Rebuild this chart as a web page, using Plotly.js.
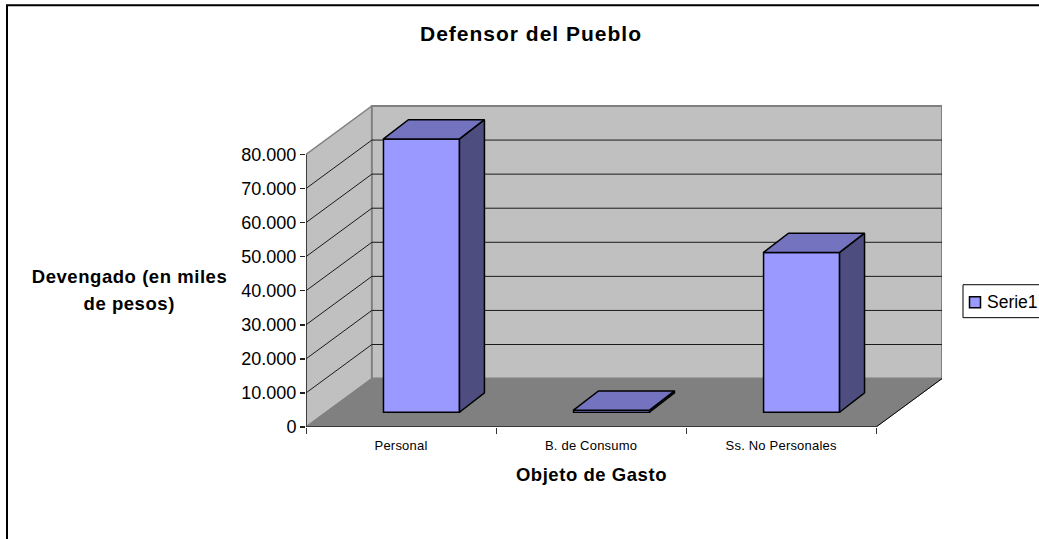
<!DOCTYPE html>
<html><head><meta charset="utf-8">
<script src="https://cdn.plot.ly/plotly-3.0.1.min.js"></script>
<style>html,body{margin:0;padding:0;background:#fff;overflow:hidden}#c{width:1039px;height:539px}
#c .annotation-text tspan[style*="bold"]{letter-spacing:.55px}
#c .gtitle tspan{letter-spacing:1px}
#c .xtick text{letter-spacing:.2px}
</style></head>
<body><div id="c"></div>
<script>
const categories = ["Personal", "B. de Consumo", "Ss. No Personales"];
const values = [80200, 600, 46900];
const yTicks = [0,10000,20000,30000,40000,50000,60000,70000,80000];
const yTickText = ["0","10.000","20.000","30.000","40.000","50.000","60.000","70.000","80.000"];
const seriesName = "Serie1";

// pixel frame of the chart
const W=1039,H=539, L=306,R=942,T=105,B=427.5;
const catPx=190.4, valPx=34.125/10000;
const wallDx=66/catPx, wallDy=48.5/valPx;
const barDx=20.5/catPx, barDy=14.8/valPx;
const depDx=25/catPx, depDy=19.3/valPx;
const barW=0.4;
const xMin=-0.5, xMax=2.5, yMax=80000;
const px=v=>(v-L)/(R-L), py=v=>1-(v-T)/(B-T);

function poly(pts){return 'M'+pts.map(p=>p[0]+','+p[1]).join('L')+'Z';}
const shapes=[];
function dataShape(path,fill,color,width){shapes.push({type:'path',xref:'x',yref:'y',layer:'below',path,fillcolor:fill,line:{color:color||'rgba(0,0,0,0)',width:width||0}});}
// side wall, back wall, floor
dataShape(poly([[xMin,0],[xMin,yMax],[xMin+wallDx,yMax+wallDy],[xMin+wallDx,wallDy]]),'#c0c0c0','#808080',1.5);
dataShape(poly([[xMin+wallDx,wallDy],[xMin+wallDx,yMax+wallDy],[xMax+wallDx,yMax+wallDy],[xMax+wallDx,wallDy]]),'#c0c0c0','#808080',2);
// gridlines
yTicks.slice(1,-1).forEach(v=>{
  shapes.push({type:'path',xref:'x',yref:'y',layer:'below',
    path:`M${xMin},${v}L${xMin+wallDx},${v+wallDy}L${xMax+wallDx},${v+wallDy}`,line:{color:'#1a1a1a',width:1}});
});
dataShape(poly([[xMin,0],[xMin+wallDx,wallDy],[xMax+wallDx,wallDy],[xMax,0]]),'#808080','#808080',1);
// floor front-right edge
shapes.push({type:'line',xref:'x',yref:'y',layer:'below',x0:xMax,y0:0,x1:xMax+wallDx,y1:wallDy,line:{color:'#000',width:1}});
// axis lines
shapes.push({type:'line',xref:'x',yref:'y',x0:xMin,y0:0,x1:xMin,y1:yMax,line:{color:'#222',width:1.5}});
shapes.push({type:'line',xref:'x',yref:'y',x0:xMin,y0:0,x1:xMax,y1:0,line:{color:'#222',width:1.5}});
// outer frame
shapes.push({type:'path',xref:'paper',yref:'paper',path:`M${px(7)},${py(545)}L${px(7)},${py(5.2)}L${px(1045)},${py(5.2)}`,line:{color:'#000',width:2}});
// legend box
shapes.push({type:'rect',xref:'paper',yref:'paper',x0:px(963),x1:px(1045),y0:py(285),y1:py(318),fillcolor:'#fff',line:{color:'#000',width:1}});
shapes.push({type:'rect',xref:'paper',yref:'paper',x0:px(969.5),x1:px(980.5),y0:py(297),y1:py(308),fillcolor:'#9999ff',line:{color:'#000',width:1.5}});

const traces=[];
traces.push({type:'bar',name:seriesName,x:categories.map((c,i)=>i+barDx),y:values,base:values.map(()=>barDy),width:barW,
  marker:{color:'#9999ff',line:{color:'#000',width:1.5}},showlegend:false,hoverinfo:'skip'});
values.forEach((v,i)=>{
  const x0=i+barDx-barW/2,x1=i+barDx+barW/2,b=barDy,t=barDy+v;
  traces.push({type:'scatter',mode:'lines',fill:'toself',fillcolor:'#4d4d80',line:{color:'#000',width:1.5},showlegend:false,hoverinfo:'skip',
    x:[x1,x1+depDx,x1+depDx,x1,x1],y:[b,b+depDy,t+depDy,t,b]});
  traces.push({type:'scatter',mode:'lines',fill:'toself',fillcolor:'#7373bf',line:{color:'#000',width:1.5},showlegend:false,hoverinfo:'skip',
    x:[x0,x0+depDx,x1+depDx,x1,x0],y:[t,t+depDy,t+depDy,t,t]});
});
// helper trace carrying the boundary ticks
traces.push({type:'scatter',mode:'none',x:[xMin],y:[0],xaxis:'x2',showlegend:false,hoverinfo:'skip'});

const ff='"Liberation Sans", Arial, sans-serif';
const ann=(t,x,y,size,bold)=>({xref:'paper',yref:'paper',x:px(x),y:py(y),text:bold?`<b>${t}</b>`:t,showarrow:false,font:{family:ff,size,color:'#000'},xanchor:'center',yanchor:'middle'});
const layout={
  width:W,height:H,margin:{l:L,r:W-R,t:T,b:H-B,pad:0},paper_bgcolor:'#fff',plot_bgcolor:'rgba(0,0,0,0)',
  font:{family:ff,color:'#000'},showlegend:false,
  title:{text:'<b>Defensor del Pueblo</b>',font:{family:ff,size:21,color:'#000'},x:531/W,xanchor:'center',y:1-34/H,yanchor:'middle'},
  xaxis:{range:[xMin,xMax+wallDx],tickmode:'array',tickvals:[0,1,2],ticktext:categories,ticks:'',showgrid:false,zeroline:false,showline:false,
    tickfont:{family:ff,size:13,color:'#000'},automargin:false,ticklabelstandoff:9},
  xaxis2:{overlaying:'x',side:'bottom',anchor:'y',matches:'x',tickmode:'array',tickvals:[-0.5,0.5,1.5,2.5],ticktext:['','','',''],ticks:'outside',ticklen:6,tickwidth:1,tickcolor:'#333',showgrid:false,zeroline:false,showline:false},
  yaxis:{range:[0,(B-T)/valPx],tickmode:'array',tickvals:yTicks,ticktext:yTickText,ticks:'outside',ticklen:5,tickwidth:1.5,tickcolor:'#222',showgrid:false,zeroline:false,showline:false,
    tickfont:{family:ff,size:18,color:'#000'},automargin:false},
  shapes,
  annotations:[ann('Devengado (en miles',129,277,18.5,true),ann('de pesos)',129,304,18.5,true),
    ann('Objeto de Gasto',591,475.5,18.5,true),
    ann(seriesName,1012.5,302,17.5,false)],
};
Plotly.newPlot('c',traces,layout,{staticPlot:true,displayModeBar:false});
</script></body></html>
